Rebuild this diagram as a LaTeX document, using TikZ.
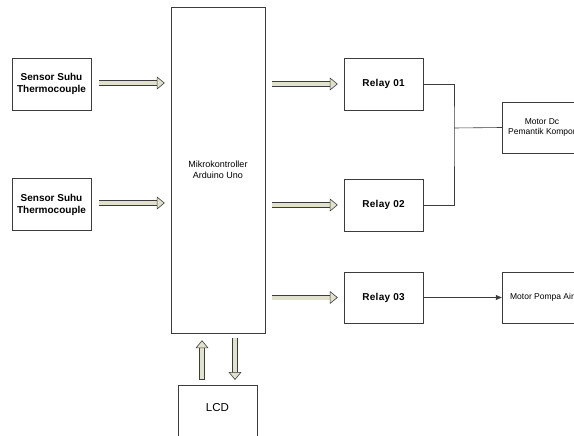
\documentclass[tikz,border=0pt]{standalone}
\usepackage{fontspec}
\setmainfont{Liberation Sans}
\newfontfamily\relayfont[LetterSpace=3]{Liberation Sans}
\usetikzlibrary{arrows.meta}
\definecolor{arrowfill}{RGB}{225,226,205}
\definecolor{boxline}{RGB}{60,60,60}

\begin{document}
\begin{tikzpicture}[x=1pt, y=-1pt,
    box/.style={draw=boxline, rectangle, inner sep=0pt, align=center},
    sensorbox/.style={box, minimum width=79pt, minimum height=52pt, font=\fontsize{10}{12}\selectfont\bfseries},
    relaybox/.style={box, minimum width=79pt, minimum height=52pt, font=\fontsize{10}{12}\selectfont\relayfont\bfseries},
    motorbox/.style={box, minimum width=80pt, minimum height=51pt, font=\fontsize{8.5}{10}\selectfont},
    fat/.style={draw=boxline, double=arrowfill, double distance=4pt, line width=0.6pt, line cap=rect,
        -{Triangle[length=8pt, width=13pt, fill=arrowfill]}},
    thin/.style={draw=boxline, line width=0.6pt}]
    \useasboundingbox (0,0) rectangle (574,436);
    \clip (0,0) rectangle (574,436);

    \node[sensorbox] (sens1) at (51.5,84) {Sensor Suhu\\Thermocouple};
    \node[sensorbox] (sens2) at (51.5,204.5) {Sensor Suhu\\Thermocouple};
    \node[box, minimum width=94pt, minimum height=326pt, font=\fontsize{9}{11}\selectfont] (mcu) at (218,170) {Mikrokontroller\\Arduino Uno};
    \node[relaybox] (relay1) at (383.5,84) {Relay 01};
    \node[relaybox] (relay2) at (383.5,205) {Relay 02};
    \node[relaybox, minimum height=51pt] (relay3) at (383.5,297.5) {Relay 03};
    \node[motorbox] (motordc) at (542,127.5) {Motor Dc\\Pemantik Kompor};
    \node[motorbox] (pompa) at (542,297.5) {Motor Pompa Air};
    \node[box, minimum width=79pt, minimum height=60pt, anchor=north] (lcd) at (217.5,385) {};
    \node[font=\fontsize{11.5}{13}\selectfont, inner sep=0pt] (lcdtext) at (217.5,408) {LCD};
    \coordinate (jn) at (454,128);

    % sensors to controller
    \draw[fat, shorten <=10pt, shorten >=6pt] (sens1.east |- 0,83) -- (mcu.west |- 0,83);
    \draw[fat, shorten <=10pt, shorten >=6pt] (sens2.east |- 0,203) -- (mcu.west |- 0,203);

    % controller to relays
    \draw[fat, shorten <=9pt, shorten >=6pt] (mcu.east |- relay1.west) -- (relay1.west);
    \draw[fat, shorten <=9pt, shorten >=6pt] (mcu.east |- relay2.west) -- (relay2.west);
    \draw[fat, shorten <=9pt, shorten >=6pt] (mcu.east |- relay3.west) -- (relay3.west);

    % controller and lcd
    \draw[fat, shorten <=8pt, shorten >=7pt] (lcd.north -| 202,0) -- (mcu.south -| 202,0);
    \draw[fat, shorten <=7pt, shorten >=5pt] (mcu.south -| 235,0) -- (lcd.north -| 235,0);

    % relays to motors
    \draw[thin] (relay1.east) -| (jn) |- (relay2.east);
    \draw[thin] (jn) -- (motordc.west);
    \draw[thin, -{Triangle[length=6pt, width=5pt]}] (relay3.east) -- (pompa.west);
\end{tikzpicture}
\end{document}
